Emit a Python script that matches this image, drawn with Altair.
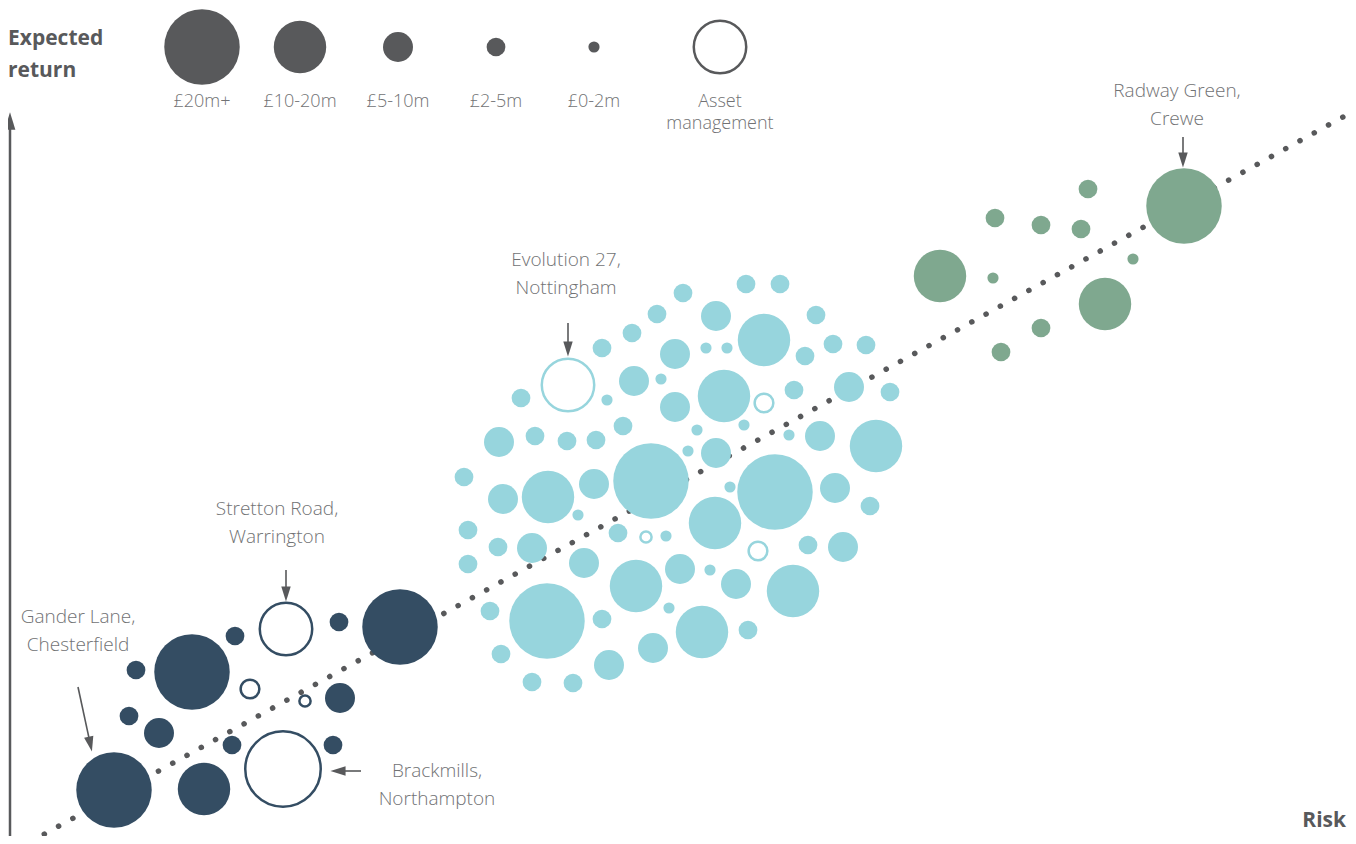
import math
import altair as alt
import pandas as pd

# ---------------- categories ----------------
BANDS = ["£20m+", "£10-20m", "£5-10m", "£2-5m", "£0-2m"]
BAND_SIZES = [5700, 2750, 900, 350, 125]          # symbol areas for each lot-size band
GROUPS = ["Lower risk", "Mid risk", "Higher risk", "Key"]
GROUP_COLORS = ["#344d63", "#97d5dd", "#7fa88f", "#58595b"]
B1, B2, B3, B4, B5 = BANDS

# ---------------- portfolio bubbles (risk, expected return, band) ----------------
navy_risk = [339, 400, 235, 136, 192, 340, 129, 159, 232, 333, 114, 204]
navy_ret = [222, 217, 208, 174, 172, 146, 128, 111, 99, 99, 54, 55]
navy_band = [B4, B1, B4, B4, B1, B3, B4, B3, B4, B4, B1, B2]

navy_am_risk = [286, 250, 305, 283]
navy_am_ret = [215, 155, 143, 75]
navy_am_band = [B2, B4, B5, B1]

teal_risk = [683, 746, 780, 657, 716, 764, 816, 632, 602, 675, 706, 727, 805, 833, 866,
             521, 607, 634, 661, 675, 724, 794, 849, 890, 744, 697, 623, 499, 535, 567,
             596, 688, 716, 789, 820, 876, 464, 503, 548, 594, 651, 730, 775, 835, 870,
             578, 468, 498, 532, 618, 666, 715, 808, 843, 468, 584, 636, 680, 710, 736,
             793, 490, 547, 602, 669, 702, 748, 501, 653, 609, 532, 573]
teal_ret = [551, 560, 560, 530, 528, 504, 529, 511, 496, 490, 496, 496, 488, 500, 499,
            446, 444, 463, 465, 437, 448, 454, 457, 452, 419, 414, 418, 402, 408, 403,
            404, 393, 391, 409, 408, 398, 367, 345, 347, 360, 363, 357, 352, 356, 338,
            329, 314, 297, 296, 311, 308, 321, 299, 297, 280, 281, 258, 275, 274, 260,
            253, 233, 223, 225, 236, 212, 214, 190, 196, 179, 162, 161]
teal_band = [B4, B4, B4, B4, B3, B2, B4, B4, B4, B3, B5, B5, B4, B4, B4,
             B4, B5, B3, B5, B3, B2, B4, B3, B4, B5, B5, B4, B3, B4, B4,
             B4, B5, B3, B5, B3, B2, B4, B3, B2, B3, B1, B5, B1, B3, B4,
             B5, B4, B4, B3, B4, B5, B2, B4, B3, B4, B3, B2, B3, B5, B3,
             B2, B4, B1, B4, B5, B2, B4, B4, B3, B3, B4, B4]

teal_am_risk = [568, 764, 646, 758]
teal_am_ret = [459, 441, 307, 293]
teal_am_band = [B2, B4, B5, B4]

green_risk = [1088, 1081, 1184, 1133, 1105, 995, 1041, 940, 993, 1041, 1001]
green_ret = [655, 615, 638, 585, 540, 626, 619, 568, 566, 516, 492]
green_band = [B4, B4, B1, B5, B2, B4, B4, B2, B5, B4, B4]

# ---------------- trend line ----------------
trend_risk = [30, 1352]
trend_ret = [2, 732]

# ---------------- key ----------------
key_risk = [202, 300, 398, 496, 594]
key_ret = [797, 797, 797, 797, 797]
key_am_risk = [720]
key_am_ret = [797]
key_label_lines = [["£20m+"], ["£10-20m"], ["£5-10m"], ["£2-5m"], ["£0-2m"], ["Asset", "management"]]
key_label_risk = [202, 300, 398, 496, 594, 720]
key_label_ret = 743
key_line_gap = 22

# ---------------- annotations ----------------
ann_lines = [["Radway Green,", "Crewe"], ["Evolution 27,", "Nottingham"], ["Stretton Road,", "Warrington"],
             ["Gander Lane,", "Chesterfield"], ["Brackmills,", "Northampton"]]
ann_risk = [1177, 566, 277, 78, 437]
ann_ret = [754, 585, 336, 228, 74]
ann_line_gap = 28
arrow_start = [(1183, 707), (568, 521), (286, 274), (78, 157), (361, 73)]
arrow_tip = [(1183, 676), (568, 487), (286, 242), (92, 92), (330, 73)]

axis_start = (10, 0)
axis_tip = (10, 731)
axis_titles = ["Expected", "return"]
axis_title_risk = 8
axis_title_ret = [806, 774]
x_title = "Risk"
x_title_pos = (1346, 24)

# ---------------- build tables ----------------
def bubbles(risk, ret, band, group):
    return pd.DataFrame({"risk": risk, "ret": ret, "band": band, "group": group})

filled = pd.concat([
    bubbles(navy_risk, navy_ret, navy_band, GROUPS[0]),
    bubbles(teal_risk, teal_ret, teal_band, GROUPS[1]),
    bubbles(green_risk, green_ret, green_band, GROUPS[2]),
    bubbles(key_risk, key_ret, BANDS, GROUPS[3]),
])
outlined = pd.concat([
    bubbles(navy_am_risk, navy_am_ret, navy_am_band, GROUPS[0]),
    bubbles(teal_am_risk, teal_am_ret, teal_am_band, GROUPS[1]),
    bubbles(key_am_risk, key_am_ret, [B2], GROUPS[3]),
])

key_rows = []
for lines, r in zip(key_label_lines, key_label_risk):
    for i, t in enumerate(lines):
        key_rows.append({"risk": r, "ret": key_label_ret - i * key_line_gap, "text": t})
key_labels = pd.DataFrame(key_rows)

ann_rows = []
for lines, r, y in zip(ann_lines, ann_risk, ann_ret):
    for i, t in enumerate(lines):
        ann_rows.append({"risk": r, "ret": y - i * ann_line_gap, "text": t})
ann_labels = pd.DataFrame(ann_rows)

HEAD_HALF = 8
def arrow_tables(starts, tips):
    lines, heads = [], []
    for (sx, sy), (tx, ty) in zip(starts, tips):
        dx, dy = tx - sx, ty - sy
        ln = math.hypot(dx, dy)
        cx, cy = tx - HEAD_HALF * dx / ln, ty - HEAD_HALF * dy / ln
        lines.append({"risk": sx, "ret": sy, "risk2": cx, "ret2": cy})
        heads.append({"risk": cx, "ret": cy, "angle": math.degrees(math.atan2(dx, dy)) % 360})
    return pd.DataFrame(lines), pd.DataFrame(heads)

arr_lines, arr_heads = arrow_tables(arrow_start, arrow_tip)
ax_line, ax_head = arrow_tables([axis_start], [axis_tip])

trend = pd.DataFrame({"risk": [trend_risk[0]], "ret": [trend_ret[0]],
                      "risk2": [trend_risk[1]], "ret2": [trend_ret[1]]})

# ---------------- encodings ----------------
X = alt.X("risk:Q", scale=alt.Scale(domain=[8, 1348], nice=False, zero=False), axis=None)
Y = alt.Y("ret:Q", scale=alt.Scale(domain=[8, 836], nice=False, zero=False), axis=None)
SIZE = alt.Size("band:N", scale=alt.Scale(type="ordinal", domain=BANDS, range=BAND_SIZES), legend=None)
CSCALE = alt.Scale(domain=GROUPS, range=GROUP_COLORS)
GREY = "#58595b"
TEXT_GREY = "#717274"
FONT = "Open Sans"
HEAD_SHAPE = "M0,-1L0.62,1L-0.62,1Z"

trend_layer = alt.Chart(trend).mark_rule(
    color=GREY, strokeWidth=5.5, strokeDash=[0.1, 16.2], strokeCap="round"
).encode(x=X, y=Y, x2="risk2:Q", y2="ret2:Q")

filled_layer = alt.Chart(filled).mark_circle(opacity=1).encode(
    x=X, y=Y, size=SIZE, color=alt.Color("group:N", scale=CSCALE, legend=None))

outline_layer = alt.Chart(outlined).mark_circle(
    opacity=1, fill="white", fillOpacity=1, strokeWidth=2.5
).encode(x=X, y=Y, size=SIZE, stroke=alt.Stroke("group:N", scale=CSCALE, legend=None))

key_label_layer = alt.Chart(key_labels).mark_text(
    font=FONT, fontSize=18, fontWeight=300, color=TEXT_GREY, align="center", baseline="middle", dy=1
).encode(x=X, y=Y, text="text:N")

ann_label_layer = alt.Chart(ann_labels).mark_text(
    font=FONT, fontSize=19, fontWeight=300, color=TEXT_GREY, align="center", baseline="middle", dy=1
).encode(x=X, y=Y, text="text:N")

arrow_line_layer = alt.Chart(arr_lines).mark_rule(color=GREY, strokeWidth=1.6).encode(
    x=X, y=Y, x2="risk2:Q", y2="ret2:Q")
arrow_head_layer = alt.Chart(arr_heads).mark_point(
    shape=HEAD_SHAPE, filled=True, opacity=1, size=230, color=GREY
).encode(x=X, y=Y, angle=alt.Angle("angle:Q", scale=None))

axis_line_layer = alt.Chart(ax_line).mark_rule(color=GREY, strokeWidth=2.5).encode(
    x=X, y=Y, x2="risk2:Q", y2="ret2:Q")
axis_head_layer = alt.Chart(ax_head).mark_point(
    shape=HEAD_SHAPE, filled=True, opacity=1, size=300, color=GREY
).encode(x=X, y=Y, angle=alt.Angle("angle:Q", scale=None))

ytitle = pd.DataFrame({"risk": [axis_title_risk] * 2, "ret": axis_title_ret, "text": axis_titles})
ytitle_layer = alt.Chart(ytitle).mark_text(
    font=FONT, fontSize=21, fontWeight="bold", color=GREY, align="left", baseline="middle", dy=1
).encode(x=X, y=Y, text="text:N")
xtitle = pd.DataFrame({"risk": [x_title_pos[0]], "ret": [x_title_pos[1]], "text": [x_title]})
xtitle_layer = alt.Chart(xtitle).mark_text(
    font=FONT, fontSize=21, fontWeight="bold", color=GREY, align="right", baseline="middle", dy=1
).encode(x=X, y=Y, text="text:N")

chart = alt.layer(
    trend_layer, axis_line_layer, axis_head_layer, filled_layer, outline_layer,
    arrow_line_layer, arrow_head_layer, key_label_layer, ann_label_layer, ytitle_layer, xtitle_layer
).properties(
    width=1340, height=828, padding=0, autosize=alt.AutoSizeParams(type="none"),
    background="white"
).configure_view(stroke=None)

chart.save("out.html", embed_options={"renderer": "svg", "actions": False})
